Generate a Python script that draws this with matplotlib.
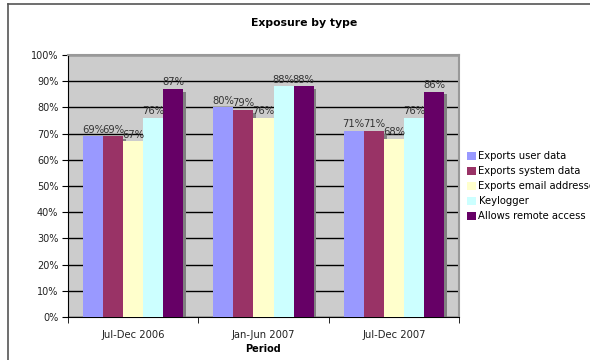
import numpy as np
import matplotlib.pyplot as plt
from matplotlib.lines import Line2D
from matplotlib.patches import Patch

periods = ['Jul-Dec 2006', 'Jan-Jun 2007', 'Jul-Dec 2007']
series = ['Exports user data', 'Exports system data', 'Exports email addresses',
          'Keylogger', 'Allows remote access']
user_data = [69, 80, 71]
system_data = [69, 79, 71]
email_addr = [67, 76, 68]
keylogger = [76, 88, 76]
remote_access = [87, 88, 86]
colors = ['#9999FF', '#993366', '#FFFFCC', '#CCFFFF', '#660066']

values = [user_data, system_data, email_addr, keylogger, remote_access]

fig = plt.figure(figsize=(5.9, 3.6), dpi=100)
ax = fig.add_axes([68 / 590, 1 - 317 / 360, 391 / 590, 262 / 360])
ax.set_facecolor('#CCCCCC')

x = np.arange(len(periods))
w = 20 / 130
for i, (name, vals) in enumerate(zip(series, values)):
    pos = x - 2 * w + i * w
    # drop shadow on the right side
    ax.bar(pos + 0.022, np.array(vals) - 1.0, width=w, color='#808080',
           zorder=2, linewidth=0)
    ax.bar(pos, vals, width=w, color=colors[i], zorder=3, linewidth=0,
           label=name)
    for px, v in zip(pos, vals):
        ax.text(px, v + 0.6, '%d%%' % v, ha='center', va='bottom',
                fontsize=7.2, color='#333333', zorder=4)

ax.set_xlim(-0.5, 2.5)
ax.set_ylim(0, 100)
ax.set_yticks(np.arange(0, 101, 10))
ax.set_yticklabels(['%d%%' % t for t in range(0, 101, 10)], fontsize=7, color='#222222')
ax.yaxis.grid(True, color='black', linewidth=1)
ax.set_axisbelow(True)

ax.set_xticks(x)
ax.set_xticklabels(periods, fontsize=7.2, color='#222222')
ax.set_xticks([-0.5, 0.5, 1.5, 2.5], minor=True)
ax.tick_params(axis='x', which='major', length=0, pad=9)
ax.tick_params(axis='x', which='minor', length=4, direction='out', color='black')
ax.tick_params(axis='y', length=4, direction='out', color='black', pad=3)
ax.set_xlabel('Period', fontsize=7, fontweight='bold', labelpad=3)

for s in ['top', 'right']:
    ax.spines[s].set_color('#999999')
    ax.spines[s].set_linewidth(1.5)
for s in ['left', 'bottom']:
    ax.spines[s].set_color('black')

fig.text(304 / 590, 1 - 23 / 360, 'Exposure by type', ha='center', va='center',
         fontsize=7.8, fontweight='bold')

handles = [Patch(facecolor=c, edgecolor='none') for c in colors]
fig.legend(handles, series, loc='upper left', bbox_to_anchor=(467 / 590, 1 - 151 / 360),
           frameon=False, fontsize=7.2, handlelength=0.85, handleheight=0.85,
           handletextpad=0.3, labelspacing=0.5, borderaxespad=0, borderpad=0)

# outer chart border (only top and left visible in the crop)
fig.add_artist(Line2D([8 / 590, 1], [1 - 4 / 360, 1 - 4 / 360], color='#555555', lw=1.2))
fig.add_artist(Line2D([8 / 590, 8 / 590], [0, 1 - 4 / 360], color='#555555', lw=1.2))

fig.savefig('out.png', dpi=100)
